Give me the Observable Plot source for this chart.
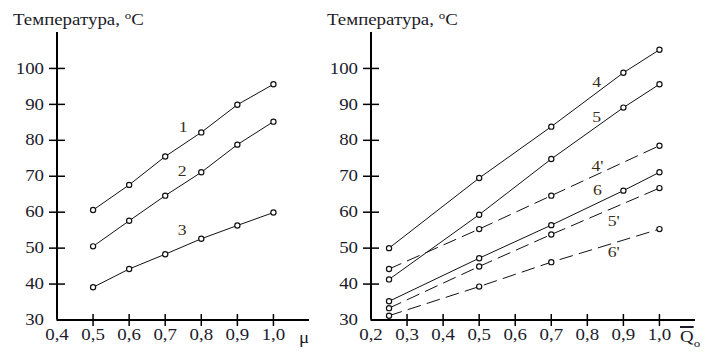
<!DOCTYPE html>
<html><head><meta charset="utf-8">
<script src="https://cdn.jsdelivr.net/npm/d3@7"></script>
<script src="https://cdn.jsdelivr.net/npm/@observablehq/plot@0.6"></script>
<style>
html,body{margin:0;padding:0;background:#fff;}
#wrap{position:relative;width:705px;height:353px;overflow:hidden;font-family:"Liberation Serif","Times New Roman",serif;}
.p{position:absolute;top:0;}
.lbl{position:absolute;white-space:nowrap;line-height:1;font-size:16px;color:#1c1c28;transform:scaleX(1.18);transform-origin:0 0;}
.lbl sup{font-size:11px;vertical-align:6px;line-height:0;}
.q{text-decoration:overline;text-decoration-thickness:1.5px;}
.lbl sub{font-size:11px;vertical-align:-5px;line-height:0;}
</style></head><body><div id="wrap"></div>
<script>
// ---- data ----
const titleText = "Температура, ";
const muValues = [0.5, 0.6, 0.7, 0.8, 0.9, 1.0];
const series1 = [60.6, 67.6, 75.5, 82.2, 89.9, 95.6];
const series2 = [50.5, 57.6, 64.6, 71.1, 78.8, 85.2];
const series3 = [39.1, 44.2, 48.3, 52.6, 56.3, 59.9];

const qValues = [0.25, 0.5, 0.7, 0.9, 1.0];
const series4 = [50.0, 69.5, 83.8, 98.8, 105.2];
const series5 = [41.3, 59.3, 74.8, 89.1, 95.6];
const series6 = [35.2, 47.2, 56.4, 66.0, 71.1];
const qValuesPrimed = [0.25, 0.5, 0.7, 1.0];
const series4p = [44.2, 55.3, 64.6, 78.5];
const series5p = [33.3, 44.9, 53.8, 66.7];
const series6p = [31.2, 39.3, 46.1, 55.3];

const yTicks = [30, 40, 50, 60, 70, 80, 90, 100];
const muTicks = [0.4, 0.5, 0.6, 0.7, 0.8, 0.9, 1.0];
const qTicks = [0.2, 0.3, 0.4, 0.5, 0.6, 0.7, 0.8, 0.9, 1.0];

const leftLabelNames = ["1", "2", "3"];
const leftLabelX = [0.75, 0.747, 0.747];
const leftLabelY = [83.6, 71.5, 54.9];
const rightLabelNames = ["4", "5", "4'", "6", "5'", "6'"];
const rightLabelX = [0.826, 0.826, 0.828, 0.828, 0.873, 0.873];
const rightLabelY = [96.3, 86.3, 72.9, 66.0, 57.6, 48.8];

// ---- build tables ----
const toRows = (xs, ys, name, dashed) => xs.map((x, i) => ({x, y: ys[i], name, dashed}));
const leftSeries = [
  toRows(muValues, series1, "1", false),
  toRows(muValues, series2, "2", false),
  toRows(muValues, series3, "3", false)
];
const rightSeries = [
  toRows(qValues, series4, "4", false),
  toRows(qValues, series5, "5", false),
  toRows(qValues, series6, "6", false),
  toRows(qValuesPrimed, series4p, "4'", true),
  toRows(qValuesPrimed, series5p, "5'", true),
  toRows(qValuesPrimed, series6p, "6'", true)
];
const toLabels = (names, xs, ys) => names.map((t, i) => ({t, x: xs[i], y: ys[i]}));

const hTick = {draw(ctx) { ctx.moveTo(-8, 0); ctx.lineTo(8, 0); }};
const vTick = {draw(ctx) { ctx.moveTo(0, -6); ctx.lineTo(0, 6); }};
const fmt = d => d.toFixed(1).replace(".", ",");
const tickColor = "#1c1c2c";
const labelColor = "#3a2c18";
const SX = 1.18;

function panel({width, marginLeft, marginRight, xDomain, xTicks, series, labels}) {
  const marks = [];
  for (const s of series) {
    marks.push(Plot.line(s, {x: "x", y: "y", stroke: "#111", strokeWidth: 1,
      strokeDasharray: s[0].dashed ? "13,7" : null}));
  }
  for (const s of series) {
    marks.push(Plot.dot(s, {x: "x", y: "y", r: 2.6, fill: "white", stroke: "#111", strokeWidth: 1.2}));
  }
  marks.push(
    Plot.ruleX([xDomain[0]], {stroke: "#000", strokeWidth: 2}),
    Plot.ruleY([yTicks[0]], {stroke: "#000", strokeWidth: 2}),
    Plot.dot(yTicks.filter(d => d > yTicks[0]), {y: d => d, frameAnchor: "left", symbol: hTick, fill: "none", stroke: "#000", strokeWidth: 1.5}),
    Plot.dot(xTicks.filter(d => d > xDomain[0]), {x: d => d, frameAnchor: "bottom", symbol: vTick, fill: "none", stroke: "#000", strokeWidth: 1.5}),
    Plot.text(yTicks, {y: d => d, frameAnchor: "left", dx: -13, textAnchor: "end", text: d => String(d), fill: tickColor, fontSize: 16}),
    Plot.text(xTicks, {x: d => d, frameAnchor: "bottom", dy: 20, text: fmt, fill: tickColor, fontSize: 16}),
    Plot.text(labels, {x: "x", y: "y", text: "t", fill: labelColor, fontSize: 15})
  );
  const svg = Plot.plot({
    width, height: 353,
    marginLeft, marginRight, marginTop: 32, marginBottom: 33.5,
    x: {domain: xDomain, axis: null},
    y: {domain: [30, 110], axis: null},
    style: {fontFamily: '"Liberation Serif","Times New Roman",serif', background: "transparent", overflow: "visible"},
    marks
  });
  for (const t of svg.querySelectorAll("text")) {
    const tr = t.getAttribute("transform") || "";
    const x = parseFloat(t.getAttribute("x")) || 0;
    t.setAttribute("transform", `${tr} translate(${x} 0) scale(${SX} 1) translate(${-x} 0)`);
  }
  return svg;
}

const wrap = document.getElementById("wrap");
const left = panel({width: 320, marginLeft: 56.5, marginRight: 11, xDomain: [0.4, 1.1], xTicks: muTicks,
  series: leftSeries, labels: toLabels(leftLabelNames, leftLabelX, leftLabelY)});
left.classList.add("p"); left.style.left = "0px";
const right = panel({width: 385, marginLeft: 50.5, marginRight: 10, xDomain: [0.2, 1.1], xTicks: qTicks,
  series: rightSeries, labels: toLabels(rightLabelNames, rightLabelX, rightLabelY)});
right.classList.add("p"); right.style.left = "320px";
wrap.append(left, right);

function addLabel(html, x, y) {
  const d = document.createElement("div");
  d.className = "lbl";
  d.innerHTML = html;
  d.style.left = x + "px"; d.style.top = y + "px";
  wrap.append(d);
}
addLabel(titleText + "<sup>o</sup>C", 13, 12);
addLabel(titleText + "<sup>o</sup>C", 327, 12);
addLabel("μ", 299, 330);
addLabel('<span class="q">Q</span><sub>o</sub>', 680, 329);
</script></body></html>
